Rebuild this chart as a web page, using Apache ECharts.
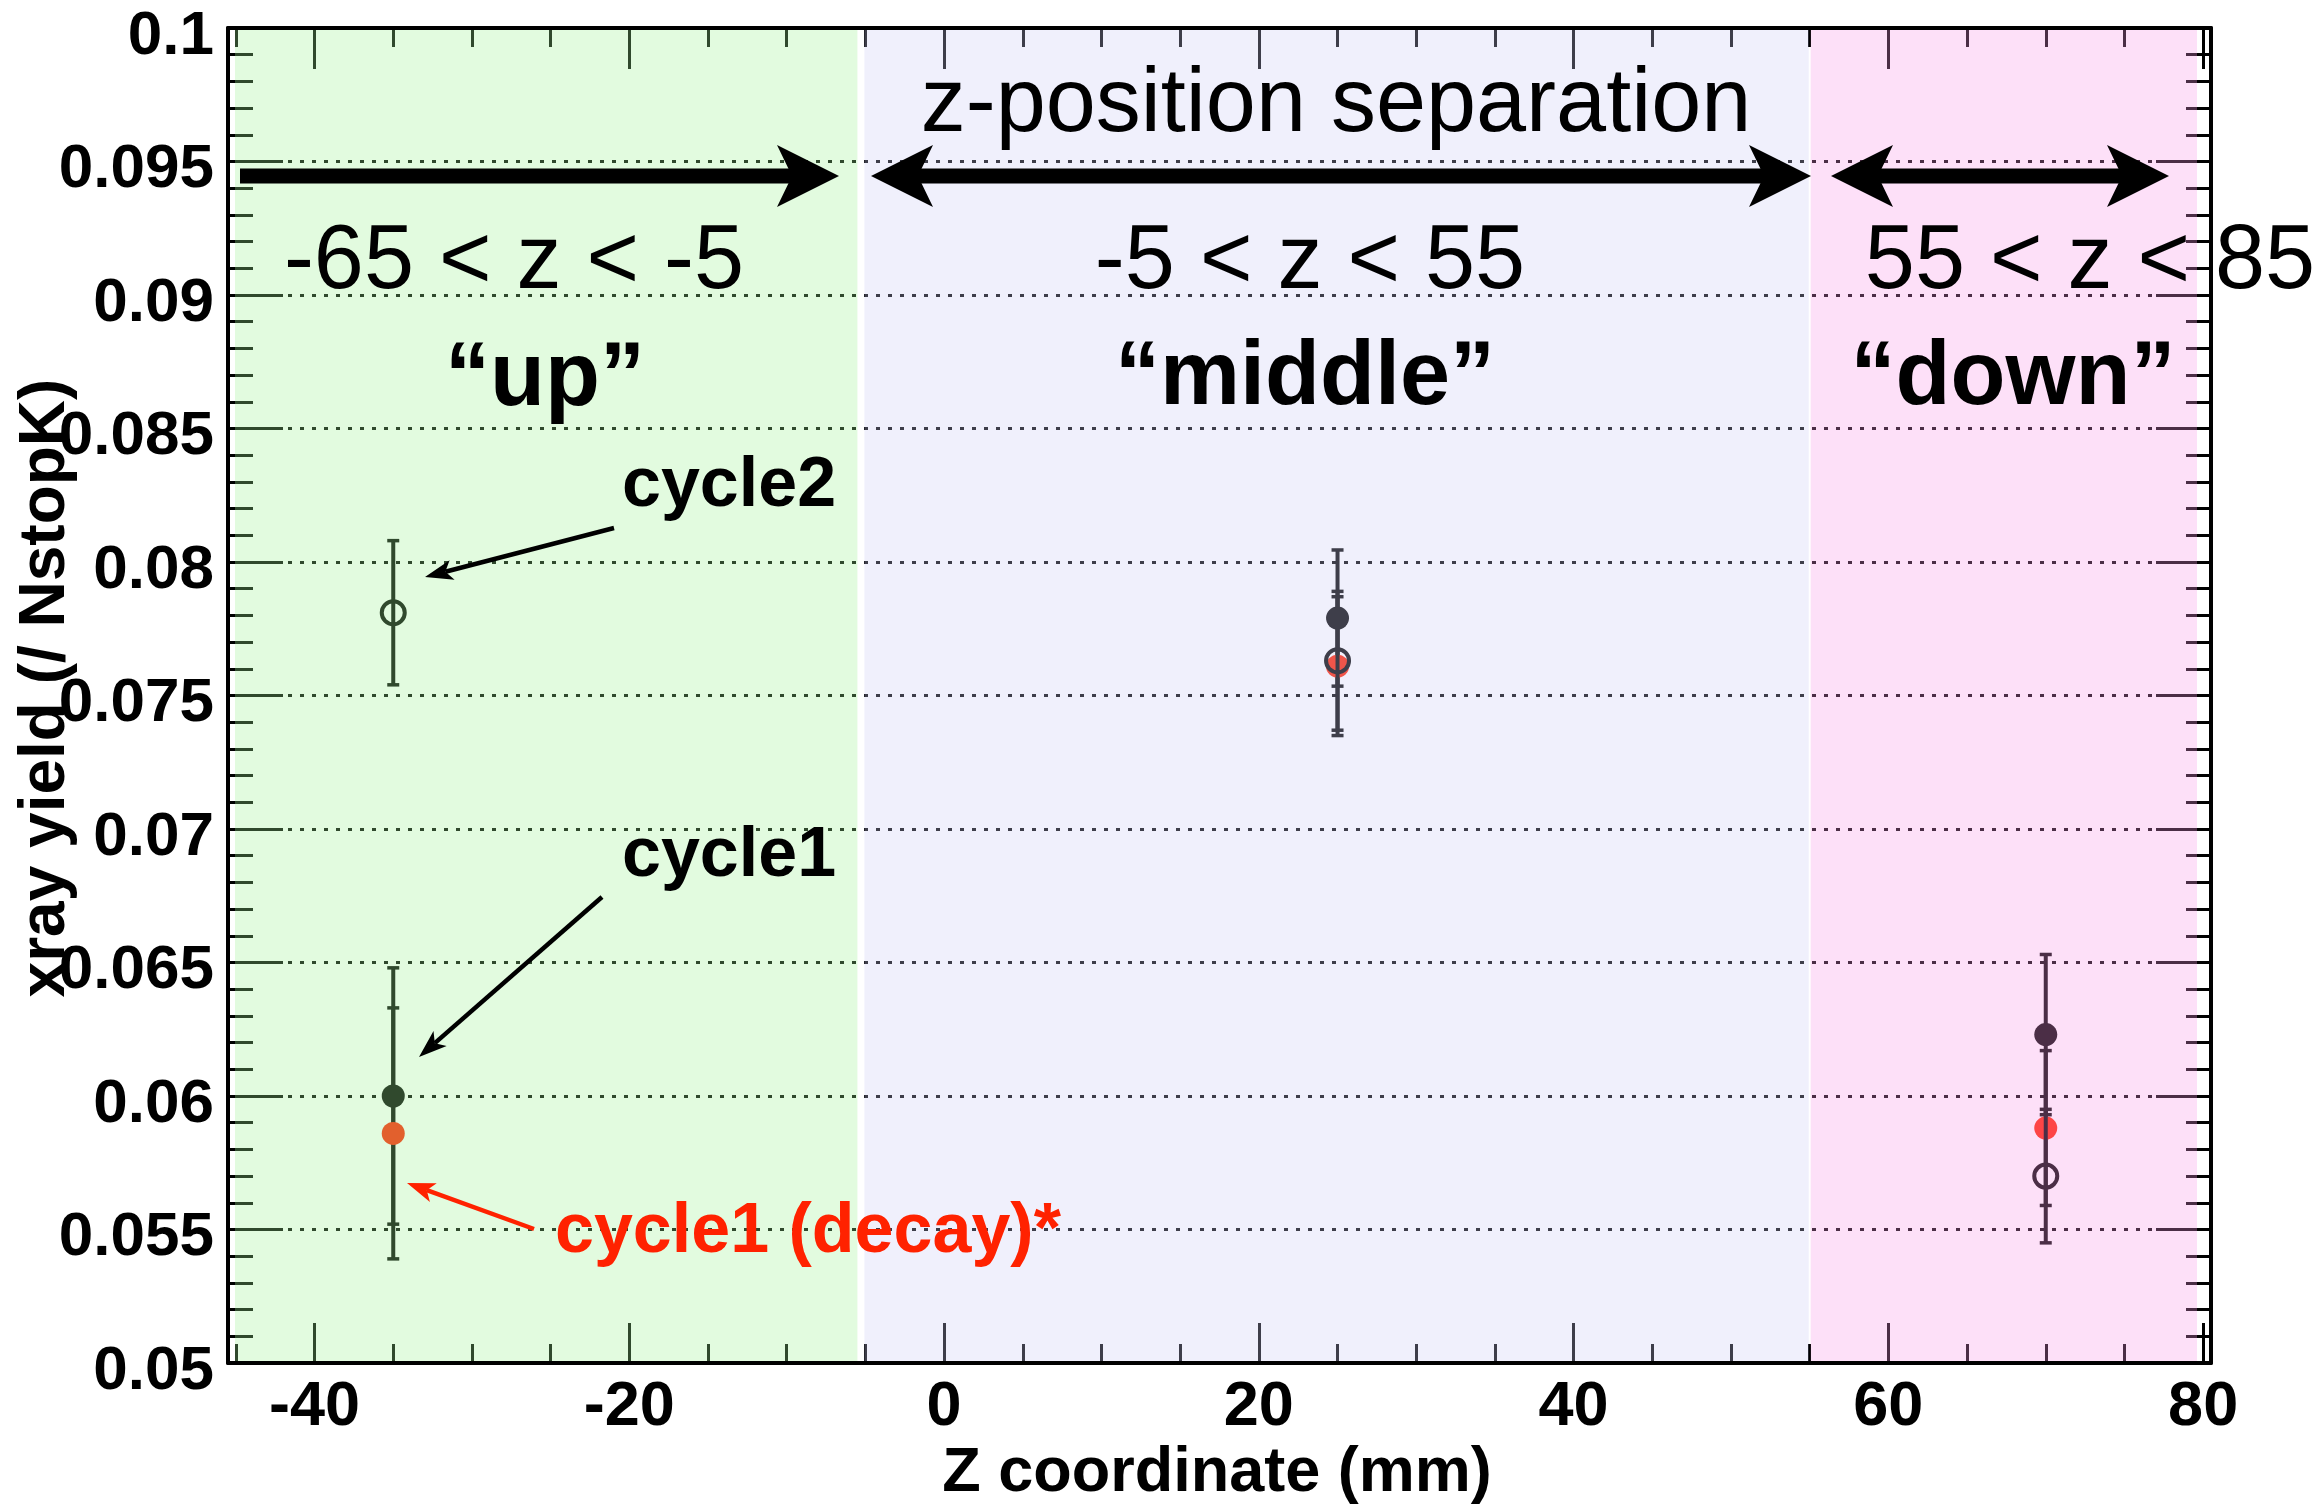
<!DOCTYPE html>
<html><head><meta charset="utf-8">
<script src="https://cdn.jsdelivr.net/npm/echarts@6/dist/echarts.min.js"></script>
<style>html,body{margin:0;padding:0;background:#fff}#chart{width:2321px;height:1504px}</style>
</head><body><div id="chart"></div>
<script>
// ---- data ----
const zPositions = [-35, 25, 70];
const cycle1Yield = [0.0600, 0.0779, 0.0623];
const cycle1Err   = [0.0048, 0.00255, 0.0030];
const cycle2Yield = [0.0781, 0.0763, 0.0570];
const cycle2Err   = [0.0027, 0.0026, 0.0025];
const decayYield  = [0.0586, 0.0761, 0.0588];
const decayErr    = [0.0047, 0.0026, 0.0029];
const regionBounds = [[-65, -5], [-5, 55], [55, 85]];
const regionRangeLabels = ['-65 < z < -5', '-5 < z < 55', '55 < z < 85'];
const regionNames = ['\u201Cup\u201D', '\u201Cmiddle\u201D', '\u201Cdown\u201D'];
const xMajorTicks = [-40, -20, 0, 20, 40, 60, 80];
const xMinorTicks = [-45, -35, -30, -25, -15, -10, -5, 5, 10, 15, 25, 30, 35, 45, 50, 55, 65, 70, 75];
const yMin = 0.05, yMax = 0.1, yStep = 0.005;
const xMin = -45.5, xMax = 80.5;

const FONT = '"Liberation Sans", Arial, Helvetica, sans-serif';
const RED = '#ff2200';
const regionColors = ['rgba(158,242,148,0.3)', 'rgba(205,205,245,0.3)', 'rgba(248,152,232,0.3)'];
const regionAdj = [[0, -8], [-1, -1], [1, 0]];

const chart = echarts.init(document.getElementById('chart'), null, {renderer: 'canvas'});

function renderRegion(params, api) {
  const cs = params.coordSys;
  const i = params.dataIndex;
  let l = Math.max(api.coord([api.value(0), yMax])[0], cs.x + 7);
  let r = Math.min(api.coord([api.value(1), yMax])[0], cs.x + cs.width - 14);
  l += regionAdj[i][0]; r += regionAdj[i][1];
  return {type: 'rect', shape: {x: l, y: cs.y + 2, width: r - l, height: cs.height - 4},
          style: {fill: regionColors[i]}};
}

function errSeries(name, yields, errs, kind, z) {
  return {
    type: 'custom', name, z, clip: false,
    data: zPositions.map((x, i) => [x, yields[i], errs[i]]),
    encode: {x: 0, y: 1},
    renderItem(params, api) {
      const x = api.value(0), y = api.value(1), e = api.value(2);
      const p = api.coord([x, y]), t = api.coord([x, y + e]), b = api.coord([x, y - e]);
      const kids = [
        {type: 'line', shape: {x1: p[0], y1: t[1], x2: p[0], y2: b[1]}, style: {stroke: '#000', lineWidth: 4}},
        {type: 'rect', shape: {x: p[0] - 6, y: t[1] - 1.75, width: 12, height: 3.5}, style: {fill: '#000'}},
        {type: 'rect', shape: {x: p[0] - 6, y: b[1] - 1.75, width: 12, height: 3.5}, style: {fill: '#000'}}
      ];
      if (kind === 'open') {
        kids.push({type: 'circle', shape: {cx: p[0], cy: p[1], r: 11.5}, style: {fill: null, stroke: '#000', lineWidth: 4}});
      } else {
        kids.push({type: 'circle', shape: {cx: p[0], cy: p[1], r: 11.5}, style: {fill: kind === 'red' ? RED : '#000'}});
      }
      return {type: 'group', children: kids};
    }
  };
}

function arrow(x1, y1, x2, y2, o) {
  const dx = x2 - x1, dy = y2 - y1, L = Math.hypot(dx, dy);
  const ux = dx / L, uy = dy / L, px = -uy, py = ux;
  const bx = x2 - ux * o.head, by = y2 - uy * o.head;
  const nx = x2 - ux * (o.head - o.notch), ny = y2 - uy * (o.head - o.notch);
  return {
    head: {type: 'polygon', z: 100, shape: {points: [[x2, y2], [bx + px * o.half, by + py * o.half], [nx, ny], [bx - px * o.half, by - py * o.half]]},
           style: {fill: o.color}},
    nx, ny
  };
}
function singleArrow(x1, y1, x2, y2, o) {
  const a = arrow(x1, y1, x2, y2, o);
  return [
    {type: 'line', z: 100, shape: {x1, y1, x2: a.nx, y2: a.ny}, style: {stroke: o.color, lineWidth: o.width, lineCap: 'butt'}},
    a.head
  ];
}
function doubleArrow(x1, y1, x2, y2, o) {
  const a = arrow(x1, y1, x2, y2, o), b = arrow(x2, y2, x1, y1, o);
  return [
    {type: 'line', z: 100, shape: {x1: b.nx, y1: b.ny, x2: a.nx, y2: a.ny}, style: {stroke: o.color, lineWidth: o.width, lineCap: 'butt'}},
    a.head, b.head
  ];
}
const big = {color: '#000', width: 15, head: 62, half: 31, notch: 15};
const thin = {color: '#000', width: 4.5, head: 28, half: 10, notch: 7};
const thinRed = {color: RED, width: 4.5, head: 28, half: 10, notch: 7};

function txt(text, x, y, size, weight, color, align, extra) {
  return Object.assign({type: 'text', z: 100, x, y, style: {text, fontSize: size, fontWeight: weight, fontFamily: FONT,
    fill: color, align: align, verticalAlign: 'middle'}}, extra || {});
}

const graphics = [].concat(
  singleArrow(240, 176, 839, 176, big),
  doubleArrow(871, 176, 1811, 176, big),
  doubleArrow(1831, 176, 2169, 176, big),
  singleArrow(614, 528, 425, 577, thin),
  singleArrow(602, 897, 419, 1057, thin),
  singleArrow(534, 1229, 407, 1183, thinRed),
  [
    txt('z-position separation', 1336, 106, 90, 'normal', '#000', 'center'),
    txt(regionRangeLabels[0], 514, 263, 90, 'normal', '#000', 'center'),
    txt(regionRangeLabels[1], 1310, 263, 90, 'normal', '#000', 'center'),
    txt(regionRangeLabels[2], 2090, 263, 90, 'normal', '#000', 'center'),
    txt(regionNames[0], 545, 380, 90, 'bold', '#000', 'center'),
    txt(regionNames[1], 1305, 379, 90, 'bold', '#000', 'center'),
    txt(regionNames[2], 2013, 379, 90, 'bold', '#000', 'center'),
    txt('cycle2', 622, 487, 70, 'bold', '#000', 'left'),
    txt('cycle1', 622, 857, 70, 'bold', '#000', 'left'),
    txt('cycle1 (decay)*', 555, 1233, 70, 'bold', RED, 'left'),
    txt('Z coordinate (mm)', 1217, 1474, 63, 'bold', '#000', 'center'),
    txt('xray yield (/ NstopK)', 46, 688, 64, 'bold', '#000', 'center', {rotation: Math.PI / 2})
  ]
);

const blackLine = {color: '#000', width: 4};
const tickStyle = {color: '#000', width: 3};
const labelStyle = {color: '#000', fontFamily: FONT, fontWeight: 'bold'};

const option = {
  animation: false,
  backgroundColor: '#fff',
  grid: {left: 228, right: 110, top: 28, bottom: 141},
  xAxis: [
    {type: 'value', position: 'bottom', min: xMin, max: xMax,
     axisLine: {show: true, onZero: false, lineStyle: blackLine},
     axisTick: {show: true, inside: true, length: 40, lineStyle: tickStyle, customValues: xMajorTicks},
     axisLabel: Object.assign({show: true, fontSize: 63, margin: 13, customValues: xMajorTicks}, labelStyle),
     splitLine: {show: false}},
    {type: 'value', position: 'bottom', min: xMin, max: xMax,
     axisLine: {show: false, onZero: false},
     axisTick: {show: true, inside: true, length: 19, lineStyle: tickStyle, customValues: xMinorTicks},
     axisLabel: {show: false}, splitLine: {show: false}},
    {type: 'value', position: 'top', min: xMin, max: xMax,
     axisLine: {show: true, onZero: false, lineStyle: blackLine},
     axisTick: {show: true, inside: true, length: 41, lineStyle: tickStyle, customValues: xMajorTicks},
     axisLabel: {show: false}, splitLine: {show: false}},
    {type: 'value', position: 'top', min: xMin, max: xMax,
     axisLine: {show: false, onZero: false},
     axisTick: {show: true, inside: true, length: 19, lineStyle: tickStyle, customValues: xMinorTicks},
     axisLabel: {show: false}, splitLine: {show: false}}
  ],
  yAxis: [
    {type: 'value', position: 'left', min: yMin, max: yMax, interval: yStep,
     axisLine: {show: true, onZero: false, lineStyle: blackLine},
     axisTick: {show: true, inside: true, length: 55, lineStyle: tickStyle},
     minorTick: {show: true, splitNumber: 5, length: 25, lineStyle: tickStyle},
     axisLabel: Object.assign({show: true, fontSize: 62, margin: 14, verticalAlign: 'top', lineHeight: 17}, labelStyle),
     splitLine: {show: true, lineStyle: {color: '#000', width: 3, type: [4, 8]}}},
    {type: 'value', position: 'right', min: yMin, max: yMax, interval: yStep,
     axisLine: {show: true, onZero: false, lineStyle: blackLine},
     axisTick: {show: true, inside: true, length: 55, lineStyle: tickStyle},
     minorTick: {show: true, splitNumber: 5, length: 25, lineStyle: tickStyle},
     axisLabel: {show: false}, splitLine: {show: false}}
  ],
  series: [
    errSeries('cycle1', cycle1Yield, cycle1Err, 'filled', 2),
    errSeries('cycle1 (decay)*', decayYield, decayErr, 'red', 3),
    errSeries('cycle2', cycle2Yield, cycle2Err, 'open', 4),
    {type: 'custom', name: 'regions', z: 10, clip: false, silent: true,
     data: regionBounds, encode: {x: [0, 1]}, renderItem: renderRegion}
  ],
  graphic: graphics
};
chart.setOption(option);
</script>
</body></html>
